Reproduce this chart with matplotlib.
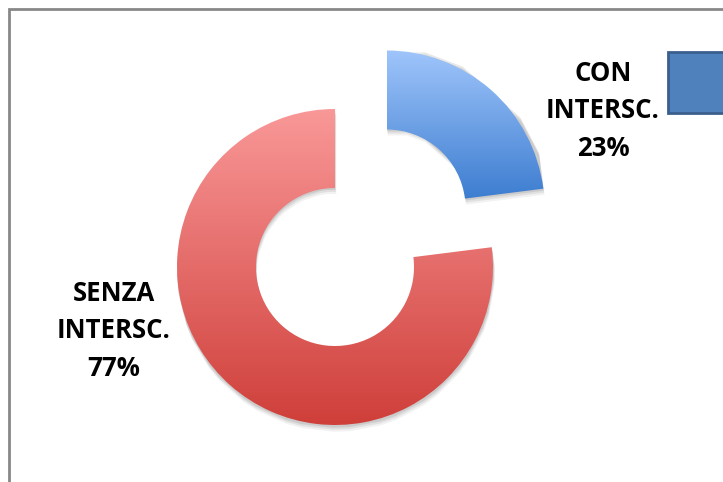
import numpy as np
import matplotlib
matplotlib.use("Agg")
import matplotlib.pyplot as plt
from matplotlib.patches import Rectangle
from matplotlib.colors import LinearSegmentedColormap

# data
labels = ["CON\nINTERSC.\n23%", "SENZA\nINTERSC.\n77%"]
values = [23, 77]
top_colors = ["#9fc5fb", "#f99898"]
bottom_colors = ["#3d7dd0", "#cf3f3a"]

plt.rcParams['font.family'] = ['Open Sans', 'DejaVu Sans']

fig = plt.figure(figsize=(7.23, 4.82), dpi=100)
ax = fig.add_axes([0, 0, 1, 1])

center = (335, 215)
radius = 158
ring = 79

wedges, _ = ax.pie(values, startangle=90, counterclock=False,
                   explode=[78, 0], center=center, radius=radius,
                   wedgeprops=dict(width=ring, linewidth=0), frame=True)

for i, w in enumerate(wedges):
    path = w.get_path()
    # soft shadow under each slice
    for k, a in zip([6, 4, 2], [0.05, 0.07, 0.09]):
        sh = plt.Polygon(path.vertices + np.array([k * 0.2, -k]), closed=True,
                         fc="black", ec="none", alpha=a, zorder=1)
        ax.add_patch(sh)
    ext = path.get_extents()
    cmap = LinearSegmentedColormap.from_list("g%d" % i, [bottom_colors[i], top_colors[i]])
    grad = np.linspace(1, 0, 256).reshape(-1, 1)
    w.set_facecolor("none")
    w.set_zorder(3)
    im = ax.imshow(grad, cmap=cmap, extent=[ext.x0, ext.x1, ext.y0, ext.y1],
                   aspect="auto", zorder=2, interpolation="bilinear")
    im.set_clip_path(w)

# labels
ax.text(603, 371, labels[0], ha="center", va="center", multialignment="center",
        fontsize=18.5, fontweight="bold", linespacing=1.5, color="black")
ax.text(114, 151, labels[1], ha="center", va="center", multialignment="center",
        fontsize=18.5, fontweight="bold", linespacing=1.5, color="black")

# legend key (cut off at the right edge)
ax.add_patch(Rectangle((668, 369), 80, 61, fc="#4f81bd", ec="#3a5f8f", lw=2, zorder=4))

# chart border
ax.add_patch(Rectangle((8.5, -20), 800, 493.5, fill=False,
                       ec="#888888", lw=2, zorder=5))

ax.set_xlim(0, 723)
ax.set_ylim(0, 482)
ax.set_aspect("equal")
ax.axis("off")

fig.savefig("out.png", dpi=100, facecolor="white")
